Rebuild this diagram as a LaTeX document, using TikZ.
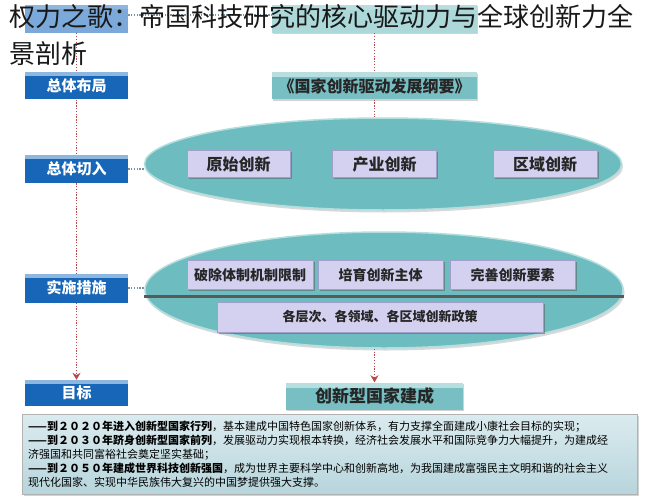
\documentclass[tikz,border=0pt]{standalone}
\usepackage{fontspec}
\setmainfont{Noto Sans CJK SC}
\usepackage{tikz}
\usetikzlibrary{shapes.geometric, shadows, arrows.meta}

\definecolor{boxblue}{HTML}{1766B8}
\definecolor{boxbluetop}{HTML}{8DB6E0}
\definecolor{boxteal}{HTML}{78BFC3}
\definecolor{boxtealtop}{HTML}{B9DEDF}
\definecolor{ovalteal}{HTML}{6DBCC0}
\definecolor{ovalrim}{HTML}{B3DEDE}
\definecolor{lavender}{HTML}{D3D1EF}
\definecolor{lavrim}{HTML}{A19FCB}
\definecolor{dotred}{HTML}{B8474A}
\definecolor{dotgray}{HTML}{7C93A0}
\definecolor{notetop}{HTML}{DBEBEF}
\definecolor{notebot}{HTML}{B7D5DC}

\tikzset{
	bluebox/.style={rectangle, fill=boxblue, text=white, inner sep=0pt,
		font=\fontsize{15}{15}\selectfont\bfseries, minimum width=103pt, minimum height=27pt,
		path picture={\fill[boxbluetop] (path picture bounding box.north west) rectangle ([yshift=-4pt]path picture bounding box.north east);}},
	tealbox/.style={rectangle, fill=boxteal, text=black!85, inner sep=0pt,
		font=\fontsize{16}{16}\selectfont\bfseries, minimum width=205pt, minimum height=27pt,
		drop shadow={shadow xshift=1pt, shadow yshift=-1.5pt, fill=black!35},
		path picture={\fill[boxtealtop] (path picture bounding box.north west) rectangle ([yshift=-5pt]path picture bounding box.north east);}},
	lavbox/.style={rectangle, fill=lavender, draw=lavrim, line width=0.6pt, text=black!85, inner sep=0pt,
		font=\fontsize{14}{14}\selectfont\bfseries, minimum height=29pt,
		drop shadow={shadow xshift=1.5pt, shadow yshift=-1.5pt, fill=black!65}},
	oval/.style={ellipse, fill=ovalteal, draw=ovalrim, line width=1.5pt, inner sep=0pt,
		drop shadow={shadow xshift=1.5pt, shadow yshift=-2.5pt, fill=black!30}},
	vlink/.style={dotred, line width=1.3pt, dash pattern=on 1.3pt off 1.5pt},
	hlink/.style={dotgray, line width=1.3pt, dash pattern=on 1.3pt off 1.5pt},
	tip/.style={-{Stealth[length=7pt, width=8pt, dotred]}},
	note/.style={rectangle, anchor=north west, top color=notetop, bottom color=notebot, draw=black!30,
		minimum width=615pt, minimum height=80pt, text width=603pt, inner xsep=6pt, align=left,
		font=\fontsize{11}{14}\selectfont, drop shadow={shadow xshift=1.5pt, shadow yshift=-2pt, fill=black!35}},
	headline/.style={anchor=north west, inner sep=0pt, align=left, text=black!90,
		font=\fontsize{26}{37}\selectfont}
}

\begin{document}
\begin{tikzpicture}[x=1pt, y=-1pt]
	\useasboundingbox (0,0) rectangle (647,500);
	\fill[white] (0,0) rectangle (647,500);

	%top row (behind the title)
	\node[bluebox, fill=boxbluetop!85!boxblue, minimum height=28pt] (topL) at (76.5,19) {};
	\node[tealbox, fill=boxtealtop!80!boxteal, drop shadow={opacity=0}, minimum height=28pt] (topC) at (374.5,19) {};

	%left column
	\node[bluebox] (layout) at (76.5,86)  {总体布局};
	\node[bluebox, minimum height=28pt] (cut)    at (76.5,169) {总体切入};
	\node[bluebox, minimum height=29pt] (impl)   at (76.5,288) {实施措施};
	\node[bluebox, minimum height=26pt] (goal)   at (76.5,393) {目标};

	%middle column
	\node[tealbox] (outline) at (374.5,86) {《国家创新驱动发展纲要》};
	\node[oval, minimum width=477pt, minimum height=92pt]  (ovalA) at (383,164) {};
	\node[oval, minimum width=478pt, minimum height=116pt] (ovalB) at (384,290) {};
	\node[tealbox, minimum width=177pt, font=\fontsize{17}{17}\selectfont\bfseries] (built) at (374.5,396) {创新型国家建成};

	%boxes - upper oval
	\node[lavbox, minimum width=103pt, minimum height=27pt, font=\fontsize{16}{16}\selectfont\bfseries] (orig)   at (238.5,164) {原始创新};
	\node[lavbox, minimum width=104pt, minimum height=27pt, font=\fontsize{16}{16}\selectfont\bfseries] (indus)  at (384.5,164) {产业创新};
	\node[lavbox, minimum width=104pt, minimum height=27pt, font=\fontsize{16}{16}\selectfont\bfseries] (region) at (545,164)   {区域创新};

	%boxes - lower oval
	\draw[black!65, line width=3pt] ([yshift=-6pt]ovalB.west) -- ([yshift=-6pt]ovalB.east);	%divider
	\node[lavbox, minimum width=126pt] (breakup) at (250,275)   {破除体制机制限制};
	\node[lavbox, minimum width=125pt] (foster)  at (380.5,275) {培育创新主体};
	\node[lavbox, minimum width=125pt] (improve) at (512.5,275) {完善创新要素};
	\node[lavbox, minimum width=326pt, minimum height=30pt, font=\fontsize{13}{13}\selectfont\bfseries] (policy) at (380,317) {各层次、各领域、各区域创新政策};

	%dotted links - left
	\draw[vlink] (topL) -- (layout);
	\draw[vlink] (layout) -- (cut);
	\draw[vlink] (cut) -- (impl);
	\draw[vlink, tip] (impl) -- (goal);

	%dotted links - middle
	\draw[vlink] (topC) -- (outline);
	\draw[vlink] (outline) -- (outline |- ovalA.north);
	\draw[vlink, tip] (outline |- ovalB.south) -- (built);

	%dotted links - across
	\draw[hlink] ([yshift=4pt]topL.east) -- ([yshift=4pt]topL.east -| topC.west);
	\draw[hlink] (cut.east) -- (cut.east -| ovalA.west);
	\draw[hlink] (impl.east) -- (impl.east -| ovalB.west);

	%targets
	\node[note] (plan) at (22,414) {%
		{\bfseries ——到２０２０年进入创新型国家行列}，基本建成中国特色国家创新体系，有力支撑全面建成小康社会目标的实现；\\
		{\bfseries ——到２０３０年跻身创新型国家前列}，发展驱动力实现根本转换，经济社会发展水平和国际竞争力大幅提升，为建成经\\
		济强国和共同富裕社会奠定坚实基础；\\
		{\bfseries ——到２０５０年建成世界科技创新强国}，成为世界主要科学中心和创新高地，为我国建成富强民主文明和谐的社会主义\\
		现代化国家、实现中华民族伟大复兴的中国梦提供强大支撑。};

	%title on top
	\node[headline] (title) at (9,4) {权力之歌：帝国科技研究的核心驱动力与全球创新力全\\景剖析};
\end{tikzpicture}
\end{document}
